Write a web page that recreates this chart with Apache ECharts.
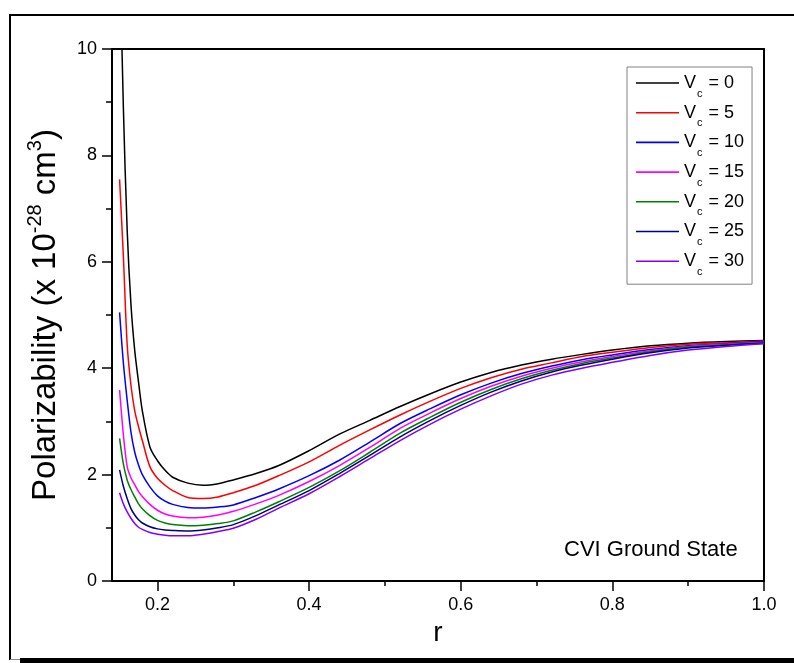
<!DOCTYPE html>
<html>
<head>
<meta charset="utf-8">
<script src="https://cdn.jsdelivr.net/npm/echarts@6/dist/echarts.min.js"></script>
<style>
html,body{margin:0;padding:0;background:#fff;}
#chart{width:794px;height:663px;}
</style>
</head>
<body>
<div id="chart"></div>
<script>
// ---- data ----
const rValues = [0.15,0.155,0.16,0.165,0.17,0.175,0.18,0.19,0.20,0.21,0.22,0.24,0.26,0.28,0.30,0.33,0.36,0.40,0.44,0.48,0.52,0.56,0.60,0.64,0.68,0.72,0.76,0.80,0.85,0.90,0.95,1.00];
const vcValues = [0, 5, 10, 15, 20, 25, 30];
const alphaVc0  = [12.0,8.9,6.6,5.2,4.33,3.74,3.2,2.52,2.26,2.08,1.95,1.84,1.80,1.83,1.90,2.02,2.17,2.45,2.76,3.02,3.28,3.52,3.74,3.92,4.06,4.17,4.26,4.34,4.42,4.47,4.50,4.52];
const alphaVc5  = [7.55,6.1,4.45,3.68,3.2,2.9,2.64,2.15,1.93,1.80,1.70,1.57,1.55,1.58,1.66,1.80,1.98,2.24,2.55,2.84,3.12,3.38,3.62,3.82,3.98,4.10,4.22,4.30,4.39,4.45,4.48,4.51];
const alphaVc10 = [5.05,4.1,3.4,2.8,2.42,2.18,2.0,1.77,1.60,1.50,1.44,1.38,1.37,1.39,1.43,1.57,1.73,1.98,2.27,2.61,2.96,3.24,3.50,3.72,3.90,4.04,4.16,4.25,4.35,4.42,4.46,4.50];
const alphaVc15 = [3.59,2.75,2.15,1.94,1.81,1.68,1.59,1.44,1.33,1.26,1.22,1.19,1.20,1.24,1.31,1.45,1.61,1.87,2.17,2.51,2.87,3.16,3.43,3.66,3.85,4.00,4.12,4.22,4.33,4.41,4.45,4.49];
const alphaVc20 = [2.68,2.2,1.9,1.72,1.58,1.45,1.36,1.23,1.14,1.09,1.06,1.04,1.05,1.08,1.13,1.30,1.49,1.76,2.07,2.42,2.78,3.08,3.36,3.60,3.80,3.96,4.09,4.19,4.31,4.40,4.44,4.48];
const alphaVc25 = [2.09,1.78,1.55,1.36,1.24,1.15,1.09,1.02,0.98,0.96,0.95,0.94,0.96,1.00,1.06,1.23,1.43,1.70,2.02,2.36,2.71,3.02,3.30,3.55,3.76,3.93,4.06,4.17,4.29,4.38,4.43,4.47];
const alphaVc30 = [1.66,1.45,1.30,1.18,1.08,1.01,0.97,0.91,0.88,0.86,0.85,0.85,0.88,0.93,0.99,1.16,1.37,1.64,1.96,2.30,2.64,2.95,3.23,3.48,3.70,3.87,4.00,4.11,4.24,4.34,4.41,4.46];
const xMajorTicks = [0.2, 0.4, 0.6, 0.8, 1.0];
const xMinorTicks = [0.3, 0.5, 0.7, 0.9];
const yTickLabels = [0, 2, 4, 6, 8, 10];

const seriesValues = [alphaVc0, alphaVc5, alphaVc10, alphaVc15, alphaVc20, alphaVc25, alphaVc30];
const seriesColors = ['#000000', '#ff0000', '#0000ff', '#ff00ff', '#008000', '#000080', '#8000ff'];

const FONT = 'Liberation Sans, Arial, sans-serif';

const chart = echarts.init(document.getElementById('chart'), null, {renderer: 'canvas'});

const series = vcValues.map((vc, i) => ({
  name: 'Vc = ' + vc,
  type: 'line',
  xAxisIndex: 0,
  yAxisIndex: 0,
  symbol: 'none',
  smooth: 0.3,
  clip: true,
  lineStyle: {color: seriesColors[i], width: 1.5},
  itemStyle: {color: seriesColors[i]},
  data: rValues.map((r, k) => [r, seriesValues[i][k]])
}));

const axisLineStyle = {color: '#000', width: 2};

const option = {
  backgroundColor: '#fff',
  animation: false,
  grid: {left: 112, right: 30, top: 49, bottom: 82, containLabel: false},
  legend: {
    orient: 'vertical',
    left: 627,
    top: 67,
    padding: [0, 8, 7, 9],
    icon: 'rect',
    itemWidth: 43,
    itemHeight: 1.6,
    itemGap: -2.3,
    borderColor: '#808080',
    borderWidth: 1,
    backgroundColor: '#fff',
    selectedMode: false,
    data: vcValues.map(vc => 'Vc = ' + vc),
    formatter: function (name) {
      const val = name.split('= ')[1];
      return '{v|V}{s|c}{v| = ' + val + '}';
    },
    textStyle: {
      color: '#000',
      fontFamily: FONT,
      fontSize: 18,
      rich: {
        v: {fontSize: 18, fontFamily: FONT, color: '#000', lineHeight: 20},
        s: {fontSize: 11, fontFamily: FONT, color: '#000', lineHeight: 20, padding: [21, 1, 0, 1]}
      }
    }
  },
  xAxis: [
    {
      type: 'value', min: 0.14, max: 1.0, position: 'bottom',
      name: 'r', nameLocation: 'middle', nameGap: 34,
      nameTextStyle: {fontFamily: FONT, fontSize: 28, color: '#000'},
      axisLine: {show: true, lineStyle: axisLineStyle},
      axisTick: {show: true, inside: false, length: 10, lineStyle: {color: '#000', width: 1.5}, customValues: xMajorTicks},
      axisLabel: {show: true, margin: 15, fontFamily: FONT, fontSize: 18, color: '#000', customValues: xMajorTicks,
        formatter: v => Number(v).toFixed(1)},
      splitLine: {show: false}
    },
    {
      type: 'value', min: 0.14, max: 1.0, position: 'bottom',
      axisLine: {show: false},
      axisTick: {show: true, inside: false, length: 5, lineStyle: {color: '#000', width: 1.5}, customValues: xMinorTicks},
      axisLabel: {show: false},
      splitLine: {show: false}
    },
    {
      type: 'value', min: 0.14, max: 1.0, position: 'top',
      axisLine: {show: true, onZero: false, lineStyle: axisLineStyle},
      axisTick: {show: false},
      axisLabel: {show: false},
      splitLine: {show: false}
    }
  ],
  yAxis: [
    {
      type: 'value', min: 0, max: 10, interval: 2, position: 'left',
      name: 'Polarizability (x 10{sup|-28} cm{sup|3})',
      nameLocation: 'middle', nameGap: 50, nameRotate: 90,
      nameTextStyle: {
        fontFamily: FONT, fontSize: 33, color: '#000',
        rich: {
          sup: {fontFamily: FONT, fontSize: 20, color: '#000', lineHeight: 33, padding: [0, 0, 21, 0]}
        }
      },
      axisLine: {show: true, onZero: false, lineStyle: axisLineStyle},
      axisTick: {show: true, inside: false, length: 10, lineStyle: {color: '#000', width: 1.5}},
      minorTick: {show: true, splitNumber: 2, length: 6, lineStyle: {color: '#000', width: 1.5}},
      axisLabel: {show: true, margin: 15, fontFamily: FONT, fontSize: 18, color: '#000',
        customValues: yTickLabels},
      splitLine: {show: false},
      minorSplitLine: {show: false}
    },
    {
      type: 'value', min: 0, max: 10, interval: 2, position: 'right',
      axisLine: {show: true, onZero: false, lineStyle: axisLineStyle},
      axisTick: {show: false},
      axisLabel: {show: false},
      splitLine: {show: false}
    }
  ],
  graphic: [
    {type: 'line', shape: {x1: 9, y1: 15, x2: 794, y2: 15}, style: {stroke: '#000', lineWidth: 2}, silent: true},
    {type: 'line', shape: {x1: 10, y1: 14, x2: 10, y2: 660}, style: {stroke: '#000', lineWidth: 2}, silent: true},
    {type: 'line', shape: {x1: 10, y1: 659.5, x2: 20, y2: 659.5}, style: {stroke: '#888', lineWidth: 1}, silent: true},
    {type: 'rect', shape: {x: 20, y: 658, width: 774, height: 5}, style: {fill: '#000'}, silent: true},
    {type: 'text', x: 564, y: 550, style: {text: 'CVI Ground State', fontFamily: FONT, fontSize: 22, fill: '#000', verticalAlign: 'middle', align: 'left'}, silent: true}
  ],
  series: series
};

chart.setOption(option);
</script>
</body>
</html>
